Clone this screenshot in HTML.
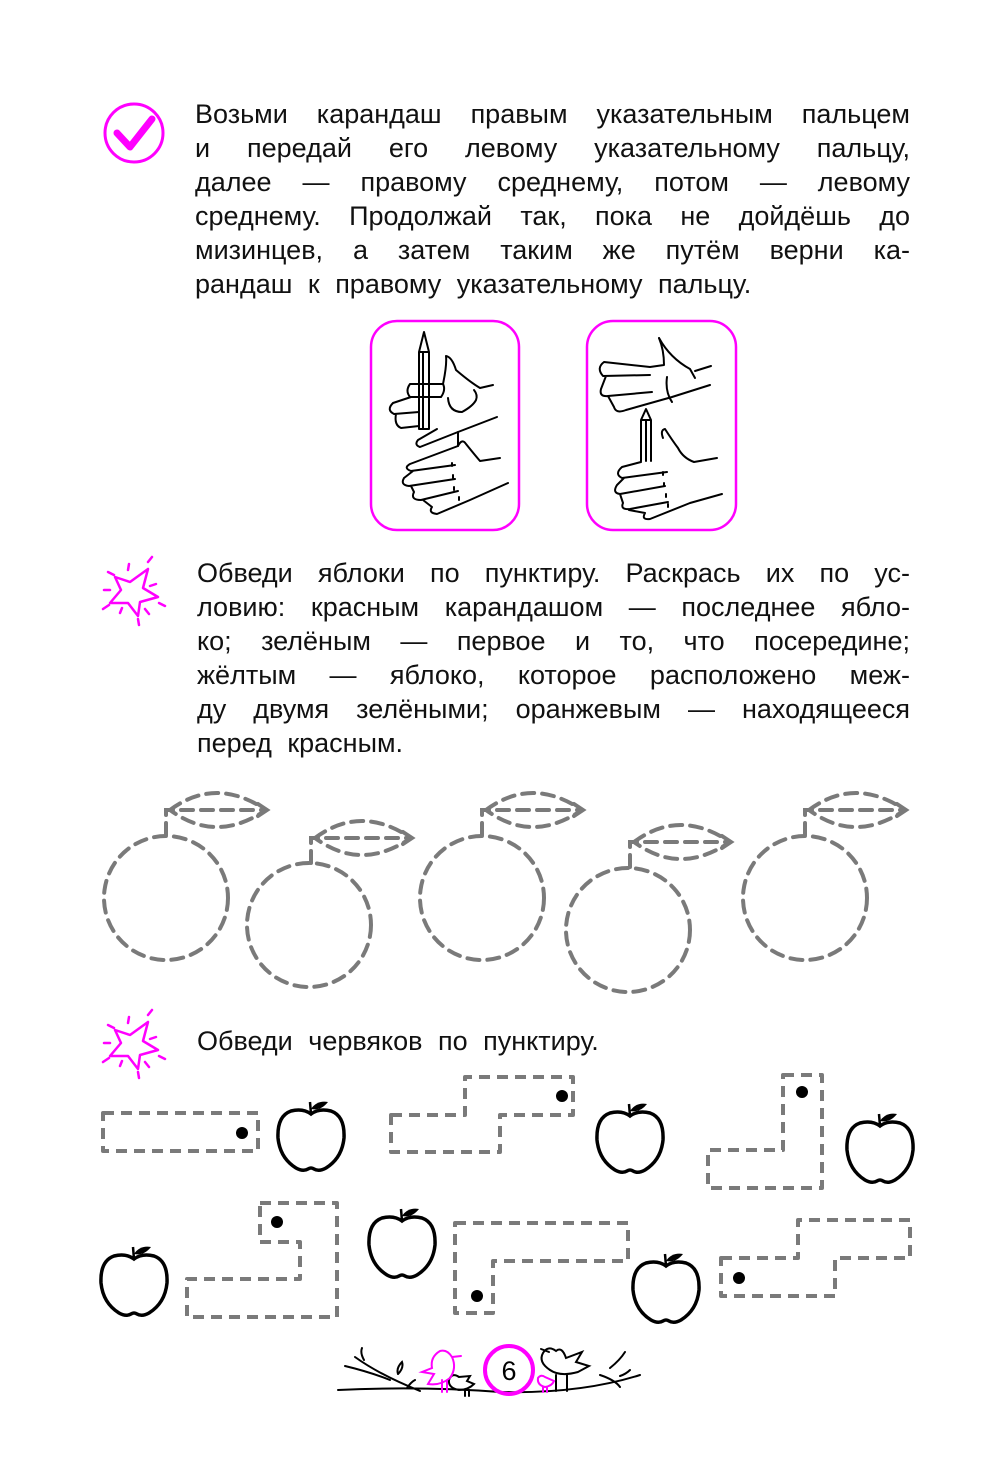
<!DOCTYPE html>
<html><head><meta charset="utf-8"><style>
html,body{margin:0;padding:0;background:#fff;}
body{width:1000px;height:1467px;position:relative;overflow:hidden;font-family:"Liberation Sans","DejaVu Sans",sans-serif;}
.t{position:absolute;left:195px;width:715px;font-size:27px;line-height:34px;color:#111;}
.t div{text-align:justify;text-align-last:justify;white-space:nowrap;}
.t div.l{text-align-last:left;word-spacing:8px;}
svg{position:absolute;left:0;top:0;}
</style></head><body>
<svg width="1000" height="1467" viewBox="0 0 1000 1467">
<g fill="none" stroke="#ff00ff">
<circle cx="134" cy="133" r="29" stroke-width="3"/>
<polyline points="117,133 130,147 152,119" stroke-width="7" stroke-linecap="round" stroke-linejoin="round"/>
<rect x="371" y="321" width="148" height="209" rx="26" stroke-width="2.5"/>
<rect x="587" y="321" width="149" height="209" rx="26" stroke-width="2.5"/>
<g stroke-width="2.5" stroke-linecap="round" stroke-linejoin="round">
<path d="M115,577 L130,582 L148,569 L143,588 L158,597 L140,602 L138,616 L128,603 L110,603 L121,590 Z"/>
<path d="M108,572 l6,3 M128,570 l1,-6 M148,562 l4,-5 M150,586 l6,-2 M159,603 l6,3 M145,609 l4,5 M138,619 l1,6 M122,608 l-2,5 M103,609 l6,-4 M110,590 l-6,0"/>
<g transform="translate(0,453)"><path d="M115,577 L130,582 L148,569 L143,588 L158,597 L140,602 L138,616 L128,603 L110,603 L121,590 Z"/>
<path d="M108,572 l6,3 M128,570 l1,-6 M148,562 l4,-5 M150,586 l6,-2 M159,603 l6,3 M145,609 l4,5 M138,619 l1,6 M122,608 l-2,5 M103,609 l6,-4 M110,590 l-6,0"/></g>
</g>
</g>
<!-- hands -->
<g fill="none" stroke="#000" stroke-width="2" stroke-linecap="round" stroke-linejoin="round">
<path d="M419,429 L419,352 L424,332 L429,352 L429,429 Z M423,352 L423,429 M419,352 L429,352"/>
<path d="M443,384 L410,384 Q405,391 410,397 L441,397 Q446,390 443,384 Z"/>
<path d="M443,384 Q447,365 446,356 Q452,357 456,370 Q470,382 480,388 L493,385"/>
<path d="M411,397 L393,403 Q386,410 394,414 L419,412 M396,414 Q394,425 401,428 L419,426 M437,429 L418,440 Q414,445 420,447 L458,432 L497,417"/>
<path d="M448,398 Q449,412 462,412 Q473,406 476,400 Q478,395 474,390"/>
<path d="M458,432 Q458,442 458,446 Q462,438 466,444 Q474,454 480,461 L500,458"/>
<path d="M458,446 L410,464 Q403,468 411,471 L455,465 M413,471 L404,478 Q400,485 409,486 L455,479 M411,486 L414,492 Q410,500 421,500 L458,491 M423,500 L432,507 Q428,513 437,514 L470,500 L508,483"/>
<path d="M452,463 l0,3 M453,475 l0,3 M454,487 l0,3 M459,497 l0,3"/>
<path d="M659,338 Q664,350 664,365 L650,367 L604,362 Q596,368 603,376 L650,375 M606,376 L601,389 Q599,397 608,396 L652,392 M608,396 L614,407 Q616,414 626,410 L672,397 L710,385"/>
<path d="M659,338 Q670,358 690,369 L695,378 M695,371 L711,366"/>
<path d="M667,377 Q665,392 672,402"/>
<path d="M641,461 L641,420 L646,409 L651,420 L651,461 M646,420 L646,461 M641,420 L651,420"/>
<path d="M663,438 Q660,430 665,429 Q672,440 678,448 Q683,458 694,462 L717,458"/>
<path d="M641,462 L622,467 Q614,474 622,478 L667,472 M624,478 L617,485 Q612,493 620,494 L665,486 M620,494 L623,503 Q620,510 630,509 L668,502 M629,510 L645,513 Q641,520 650,519 L690,503 L722,494"/>
<path d="M663,472 l0,3 M664,483 l0,3 M666,494 l0,3 M668,504 l0,3"/>
</g>
<!-- apples dashed -->
<defs>
<g id="lf">
<path d="M0,25 L0,0 L100,0"/>
<path d="M4,0 Q50,-34 100,0 Q50,34 4,0"/>
<path d="M92,-6 L101,0 L92,6" stroke-dasharray="none"/>
</g>
</defs>
<g fill="none" stroke="#7a7a7a" stroke-width="4" stroke-dasharray="12,8" stroke-linecap="round">
<circle cx="166" cy="898" r="62"/>
<use href="#lf" x="166" y="810"/>
<circle cx="309" cy="925" r="62"/>
<use href="#lf" x="311" y="838"/>
<circle cx="482" cy="898" r="62"/>
<use href="#lf" x="482" y="810"/>
<circle cx="628" cy="930" r="62"/>
<use href="#lf" x="630" y="842"/>
<circle cx="805" cy="898" r="62"/>
<use href="#lf" x="805" y="810"/>
</g>
<!-- worms -->
<g fill="none" stroke="#7a7a7a" stroke-width="4" stroke-dasharray="11,7" stroke-linejoin="round">
<path d="M103,1113 L258,1113 L258,1151 L103,1151 Z"/>
<path d="M391,1115 L465,1115 L465,1077 L573,1077 L573,1115 L500,1115 L500,1152 L391,1152 Z"/>
<path d="M783,1075 L822,1075 L822,1188 L708,1188 L708,1150 L783,1150 Z"/>
<path d="M260,1203 L337,1203 L337,1317 L187,1317 L187,1279 L300,1279 L300,1242 L260,1242 Z"/>
<path d="M455,1223 L628,1223 L628,1261 L493,1261 L493,1313 L455,1313 Z"/>
<path d="M721,1258 L798,1258 L798,1220 L910,1220 L910,1258 L835,1258 L835,1296 L721,1296 Z"/>
</g>
<g fill="#000">
<circle cx="242" cy="1133" r="6"/><circle cx="562" cy="1096" r="6"/><circle cx="802" cy="1092" r="6"/>
<circle cx="277" cy="1222" r="6"/><circle cx="477" cy="1296" r="6"/><circle cx="739" cy="1278" r="6"/>
</g>
<defs>
<g id="ap"><path d="M0,-22 Q-8,-28 -20,-25 Q-34,-20 -33,2 Q-31,22 -15,32 Q-8,36 -3,33 Q0,31 3,33 Q8,36 15,32 Q31,22 33,2 Q34,-20 20,-25 Q8,-28 0,-22 Z" fill="none" stroke="#000" stroke-width="3.5"/>
<path d="M0,-22 L-1,-34" stroke="#000" stroke-width="2.5"/><path d="M0,-27 Q6,-36 17,-34 Q10,-25 0,-27 Z" fill="#000"/></g>
</defs>
<use href="#ap" x="311" y="1136"/>
<use href="#ap" x="630" y="1138"/>
<use href="#ap" x="880" y="1148"/>
<use href="#ap" x="134" y="1281"/>
<use href="#ap" x="402" y="1243"/>
<use href="#ap" x="666" y="1288"/>
<!-- footer -->
<g fill="none" stroke="#000" stroke-width="2" stroke-linecap="round">
<path d="M338,1390 Q420,1386 500,1392 Q580,1394 640,1375"/>
<path d="M355,1357 Q380,1375 420,1391 M345,1366 Q370,1372 390,1380 M610,1368 Q620,1360 625,1352 M600,1375 Q615,1380 620,1387"/>
<path d="M398,1374 q6,-6 4,-12 q-6,6 -4,12 M364,1360 q-4,-7 -2,-12 M407,1388 q4,-6 8,-8 M620,1376 q6,-2 10,-6"/>
<path d="M556,1351 Q548,1345 543,1353 Q538,1362 550,1370 Q560,1377 578,1372 L589,1366 L576,1362 L582,1352 L566,1358 Q562,1346 556,1351 Z M541,1349 L549,1352 M556,1375 L556,1391 M567,1375 L567,1391"/>
<path d="M459,1377 Q452,1372 449,1380 Q448,1388 459,1390 Q468,1390 474,1384 L467,1381 L470,1376 Z M465,1390 l0,6 M469,1390 l0,6"/>
</g>
<g fill="none" stroke="#ff00ff" stroke-width="2" stroke-linecap="round">
<circle cx="509" cy="1370" r="24" stroke-width="4"/>
<path d="M452,1357 Q447,1349 440,1351 Q430,1357 432,1368 L422,1372 L434,1374 L428,1384 Q440,1386 450,1378 Q457,1368 452,1357 Z M452,1357 L461,1356 M442,1380 L442,1392 M447,1380 L447,1392"/>
<path d="M545,1377 Q541,1374 538,1378 Q537,1385 545,1387 Q552,1386 554,1381 Z M543,1387 l0,5 M547,1387 l0,5"/>
</g>
<text x="509" y="1380" font-family="Liberation Sans, sans-serif" font-size="27" text-anchor="middle" fill="#000">6</text>
</svg>

<div class="t" style="top:97px">
<div>Возьми карандаш правым указательным пальцем</div>
<div>и передай его левому указательному пальцу,</div>
<div>далее — правому среднему, потом — левому</div>
<div>среднему. Продолжай так, пока не дойдёшь до</div>
<div>мизинцев, а затем таким же путём верни ка-</div>
<div class="l">рандаш к правому указательному пальцу.</div>
</div>
<div class="t" style="top:556px;left:197px;width:713px">
<div>Обведи яблоки по пунктиру. Раскрась их по ус-</div>
<div>ловию: красным карандашом — последнее ябло-</div>
<div>ко; зелёным — первое и то, что посередине;</div>
<div>жёлтым — яблоко, которое расположено меж-</div>
<div>ду двумя зелёными; оранжевым — находящееся</div>
<div class="l">перед красным.</div>
</div>
<div class="t" style="top:1024px;left:197px;width:713px">
<div class="l">Обведи червяков по пунктиру.</div>
</div>
</body></html>
